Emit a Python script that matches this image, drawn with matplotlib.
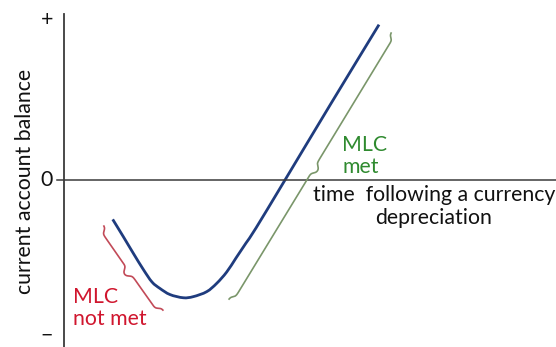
import numpy as np
import matplotlib
matplotlib.use("Agg")
import matplotlib.pyplot as plt
from matplotlib.path import Path
from matplotlib.patches import PathPatch

# J-curve: time after depreciation vs current account balance
time = [0.974, 1.186, 1.386, 1.586, 1.76, 1.92, 2.12, 2.386, 2.586, 2.854,
        3.054, 3.254, 3.44, 3.64, 3.84, 4.42, 5.334, 6.30]
balance = [-0.246, -0.354, -0.458, -0.559, -0.6375, -0.678, -0.716, -0.736, -0.729,
           -0.698, -0.646, -0.575, -0.4875, -0.394, -0.30, 0.0, 0.475, 0.971]

y_tick_labels = ["+", "0", "\u2212"]
y_tick_values = [1.0, 0.0, -1.0]
y_label = "current account balance"
x_label = "time  following a currency\ndepreciation"
brace_labels = ["MLC\nnot met", "MLC\nmet"]

W, H = 556, 347
fig = plt.figure(figsize=(W / 100, H / 100), dpi=100)
ax = fig.add_axes([0, 0, 1, 1])
# pixel mapping: x_px = 64 + 50*t ; y_px = 180 - 160*b
ax.set_xlim(-64 / 50, (W - 64) / 50)
ax.set_ylim(-(H - 180) / 160, 180 / 160)
ax.axis("off")

font = "Lato"
fs = 15.3
axis_col = "#3a3a3a"
ax.plot([0, 0], [-(H - 180) / 160, (180 - 14) / 160], color=axis_col, lw=1.3)
ax.plot([-7 / 50, (W - 64) / 50], [0, 0], color=axis_col, lw=1.1)

# smooth curve through the read points (Catmull-Rom -> cubic Bezier, in display space)
fig.canvas.draw()
tr = ax.transData
P = tr.transform(np.column_stack([time, balance]))
verts = [P[0]]
codes = [Path.MOVETO]
n = len(P)
for i in range(n - 1):
    p0 = P[i - 1] if i > 0 else P[i]
    p1, p2 = P[i], P[i + 1]
    p3 = P[i + 2] if i + 2 < n else P[i + 1]
    c1 = p1 + (p2 - p0) / 6
    c2 = p2 - (p3 - p1) / 6
    verts += [c1, c2, p2]
    codes += [Path.CURVE4] * 3
verts = tr.inverted().transform(np.array(verts))
ax.add_patch(PathPatch(Path(verts, codes), facecolor="none", edgecolor="#1f3c7e",
                       lw=2.0, capstyle="butt"))

for lab, v in zip(y_tick_labels, y_tick_values):
    if v < 0:
        ax.text(-17 / 50, -(346 - 180) / 160, lab, ha="center", va="bottom",
                fontsize=fs, family=font, color="#111111")
    else:
        ax.text(-17 / 50, v, lab, ha="center", va="center", fontsize=fs,
                family=font, color="#111111")

ax.text(-39 / 50, -0.01, y_label, rotation=90, ha="center", va="center",
        fontsize=fs, family=font, color="#111111")
ax.text(370 / 50, -0.165, x_label, ha="center", va="center", fontsize=fs,
        family=font, color="#111111", linespacing=1.15)

red_text = "#d0162e"
green_text = "#2f8a2f"
ax.text(9 / 50, -0.80, brace_labels[0], ha="left", va="center", fontsize=fs,
        family=font, color=red_text, linespacing=1.15)
ax.text(278 / 50, 0.15, brace_labels[1], ha="left", va="center", fontsize=fs,
        family=font, color=green_text, linespacing=1.15)


def brace(p0, p1, depth, side, color, lw):
    a = np.array(tr.transform(p0))
    b = np.array(tr.transform(p1))
    d = b - a
    L = np.hypot(*d)
    u_hat = d / L
    n_hat = np.array([-u_hat[1], u_hat[0]]) * side
    k = 0.9
    u = np.linspace(0, L, 400)
    h = L / 2
    uu = np.where(u <= h, u, L - u)
    s = lambda z: 1 / (1 + np.exp(-k * z))
    v = depth * (s(uu - 4) + s(uu - (h - 4))) / 2
    pts = a[None, :] + u[:, None] * u_hat[None, :] + v[:, None] * n_hat[None, :]
    dp = tr.inverted().transform(pts)
    ax.plot(dp[:, 0], dp[:, 1], color=color, lw=lw)


def px(x, y):
    return ((x - 64) / 50, (180 - y) / 160)


brace(px(104, 226), px(163, 310), 11, -1, "#c24a58", 1.2)
brace(px(229, 299), px(391, 33), 9, -1, "#7a966a", 1.2)

fig.savefig("out.png", dpi=100)
